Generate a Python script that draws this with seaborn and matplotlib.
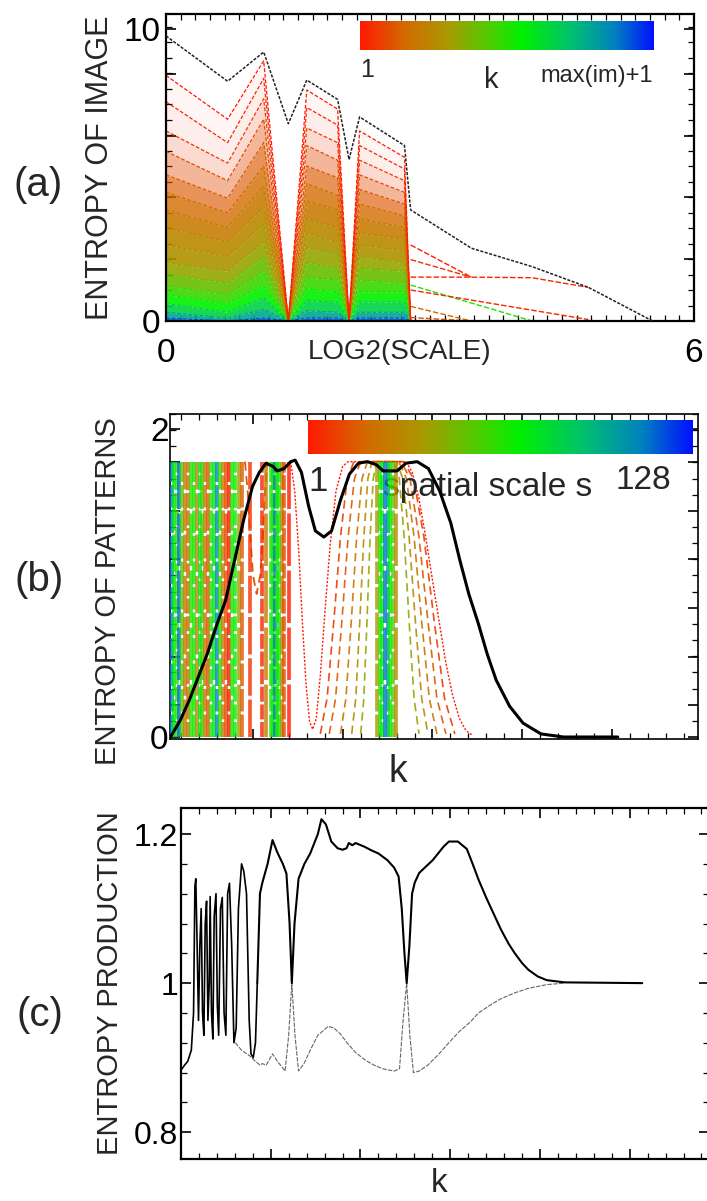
import numpy as np
import matplotlib
matplotlib.use("Agg")
import matplotlib.pyplot as plt
from matplotlib.colors import LinearSegmentedColormap
from matplotlib.ticker import FixedLocator, MultipleLocator, FixedFormatter, NullFormatter
import seaborn as sns

# ---------------- panel (a): entropy of image vs log2(scale) ----------------
a_x = [0.00, 0.70, 1.11, 1.39, 1.60, 1.95, 2.08, 2.20, 2.71, 2.78, 3.47, 4.16, 4.80, 5.53]
a_black = [9.75, 8.20, 9.20, 6.75, 8.24, 7.58, 5.52, 6.98, 6.00, 3.80, 2.49, 1.86, 1.15, 0.00]

fan_x = [0.00, 0.70, 1.11, 1.39, 1.60, 1.95, 2.08, 2.20, 2.71, 2.78]
fan_k = [0.00, 0.03, 0.06, 0.09, 0.12, 0.16, 0.20, 0.24, 0.28, 0.33, 0.40, 0.47, 0.55, 0.65, 0.78, 0.92]
fan_v0 = [8.40, 7.50, 6.50, 5.80, 5.00, 4.40, 3.80, 3.20, 2.60, 2.00, 1.60, 1.20, 0.90, 0.60, 0.30, 0.10]
fan_v1 = [6.90, 6.10, 5.40, 4.80, 4.20, 3.70, 3.20, 2.70, 2.20, 1.70, 1.30, 0.90, 0.60, 0.30, 0.10, 0.00]
fan_v2 = [8.90, 8.30, 7.60, 6.90, 6.10, 5.30, 4.60, 3.90, 3.30, 2.70, 2.20, 1.70, 1.20, 0.80, 0.40, 0.10]
fan_v3 = [0.00] * 16
fan_v4 = [7.90, 7.30, 6.60, 6.00, 5.30, 4.70, 4.10, 3.50, 3.00, 2.50, 2.00, 1.50, 1.10, 0.70, 0.35, 0.10]
fan_v5 = [7.25, 6.70, 6.10, 5.50, 4.90, 4.30, 3.80, 3.20, 2.70, 2.30, 1.80, 1.40, 1.00, 0.65, 0.30, 0.10]
fan_v6 = [0.00] * 16
fan_v7 = [6.50, 6.00, 5.50, 5.00, 4.50, 4.00, 3.50, 3.00, 2.60, 2.20, 1.80, 1.40, 1.00, 0.65, 0.30, 0.10]
fan_v8 = [5.60, 5.20, 4.80, 4.40, 4.00, 3.60, 3.20, 2.80, 2.40, 2.00, 1.70, 1.30, 1.00, 0.65, 0.30, 0.10]
fan_v9 = [0.00] * 16

tail_x = [[2.78, 3.47], [2.78, 3.47, 4.16, 4.80], [2.78, 3.47], [2.78, 4.16],
          [2.78, 4.80], [2.78, 3.47], [2.78, 3.47]]
tail_y = [[2.60, 1.50], [1.50, 1.50, 1.48, 1.15], [2.10, 1.50], [1.23, 0.00],
          [1.06, 0.05], [0.50, 0.00], [0.12, 0.00]]
tail_k = [0.00, 0.02, 0.04, 0.50, 0.03, 0.15, 0.10]

# ---------------- panel (b): entropy of patterns vs k ----------------
b_k = [1.6, 3.8, 5.8, 7.8, 9.8, 11.8, 13.9, 15.9, 17.9, 19.9, 21.4, 22.9, 24.4, 25.4, 26.9,
       28.4, 29.4, 30.8, 32.4, 33.9, 35.8, 37.5, 39.5, 41.5, 43.5, 45.5, 47.5, 49.0, 52.1,
       54.1, 56.6, 59.1, 61.6, 64.1, 66.1, 68.1, 70.2, 72.2, 74.2, 77.2, 80.2, 84.2, 89.2, 101.3]
b_black = [0.00, 0.11, 0.24, 0.39, 0.54, 0.72, 0.89, 1.15, 1.41, 1.63, 1.72, 1.78, 1.76, 1.73, 1.745,
           1.79, 1.80, 1.72, 1.50, 1.34, 1.30, 1.34, 1.54, 1.71, 1.78, 1.79, 1.77, 1.73, 1.73,
           1.78, 1.79, 1.745, 1.60, 1.39, 1.15, 0.93, 0.74, 0.54, 0.37, 0.20, 0.09, 0.02, 0.00, 0.00]
b_plateau = 1.79

spike_k = [1.9, 2.4, 3.0, 3.6, 4.2, 4.9, 5.5, 6.1, 6.8, 7.4, 8.1, 8.7, 9.4, 10.0, 10.7, 11.3,
           12.0, 12.6, 13.3, 13.9, 14.6, 15.3, 16.0, 16.8, 17.5, 19.3, 22.0, 23.0, 23.9, 24.4,
           24.9, 25.4, 25.9, 26.4, 27.0, 28.0, 47.6, 48.2, 48.8, 49.4, 50.0, 50.6, 51.2, 51.8]
spike_c = [0.85, 0.55, 0.50, 0.88, 0.45, 0.20, 0.15, 0.50, 0.55, 0.25, 0.60, 0.50, 0.18, 0.12,
           0.50, 0.58, 0.85, 0.50, 0.20, 0.10, 0.00, 0.50, 0.55, 0.30, 0.12, 0.05, 0.02, 0.20,
           0.50, 0.55, 0.88, 0.50, 0.55, 0.25, 0.10, 0.00, 0.30, 0.50, 0.55, 0.88, 0.82, 0.55,
           0.45, 0.25]

hill_A_k = [28.4, 29.3, 30.2, 31.0, 31.8, 32.6, 33.3, 34.1, 35.0, 36.0, 37.2, 38.5, 40.0, 41.2,
            54.1, 55.5, 57.0, 58.5, 60.0, 61.5, 63.0, 64.5, 66.0, 67.5, 69.0]
hill_A_v = [1.79, 1.60, 1.20, 0.75, 0.35, 0.10, 0.05, 0.12, 0.40, 0.80, 1.25, 1.60, 1.76, 1.79,
            1.79, 1.72, 1.55, 1.30, 1.02, 0.75, 0.48, 0.27, 0.12, 0.04, 0.01]
hill_B_k = [35.0, 36.5, 38.0, 39.5, 41.0, 42.5, 53.5, 55.8, 58.1, 60.4, 62.7, 65.0]
hill_C_k = [37.0, 38.4, 39.8, 41.2, 42.6, 44.0, 53.0, 55.0, 57.0, 59.0, 61.0, 63.0]
hill_D_k = [39.5, 40.7, 41.9, 43.1, 44.3, 45.5, 52.5, 54.2, 55.9, 57.6, 59.3, 61.0]
hill_E_k = [42.0, 42.9, 43.8, 44.7, 45.6, 46.5, 52.0, 53.4, 54.8, 56.2, 57.6, 59.0]
hill_F_k = [44.0, 44.7, 45.4, 46.1, 46.8, 47.5, 51.5, 52.6, 53.7, 54.8, 55.9, 57.0]
hill_v = [0.02, 0.25, 0.75, 1.30, 1.68, 1.79, 1.79, 1.68, 1.30, 0.75, 0.25, 0.02]
hill_c = [0.06, 0.12, 0.18, 0.25, 0.33]
valley_k = [18.2, 18.8, 19.4, 20.0, 20.8, 21.6, 22.2, 22.7, 23.2]
valley_v = [1.79, 1.60, 1.30, 1.05, 0.93, 1.05, 1.30, 1.60, 1.79]

# ---------------- panel (c): entropy production vs k ----------------
c_osc_k = [0.1, 0.8, 1.5, 2.3, 2.8, 3.1, 3.3, 3.6, 3.9, 4.2, 4.5, 4.8, 5.1, 5.4, 5.7, 6.0,
           6.3, 6.5, 6.8, 7.1, 7.4, 7.8, 8.1, 8.4, 8.8, 9.2, 9.6, 10.0, 10.4, 10.8, 11.3,
           11.8, 12.3, 12.8, 13.5, 14.0, 14.6, 15.2, 15.6, 16.1, 16.6, 17.0]
c_osc = [0.884, 0.890, 0.895, 0.910, 0.960, 1.130, 1.140, 1.050, 0.950, 1.050, 1.100, 0.960,
         0.930, 1.080, 1.110, 0.950, 1.000, 1.116, 0.960, 0.925, 1.090, 1.120, 0.970, 0.930,
         1.100, 1.115, 0.960, 0.930, 1.120, 1.134, 1.050, 0.920, 0.940, 1.100, 1.160, 1.150,
         1.120, 0.950, 0.905, 0.900, 0.920, 1.000]
c_up_k = [17.0, 17.6, 18.1, 19.3, 20.4, 21.5, 22.7, 23.5, 24.2, 24.7, 25.3, 26.2, 27.5, 28.8,
          30.5, 31.3, 32.3, 33.5, 34.9, 36.0, 36.9, 37.4, 38.2, 38.9, 40.9, 42.5, 44.0, 46.0,
          47.5, 48.5, 49.2, 49.8, 50.3, 50.9, 51.5, 52.1, 53.1, 56.1, 58.5, 59.7, 61.7, 62.7,
          63.7, 65.0, 66.3, 68.0, 69.3, 71.3, 73.0, 74.4, 76.0, 77.4, 79.5, 81.5, 85.5, 102.8]
c_up = [1.000, 1.120, 1.134, 1.160, 1.192, 1.175, 1.160, 1.147, 1.080, 1.000, 1.080, 1.140,
        1.160, 1.174, 1.200, 1.220, 1.213, 1.190, 1.181, 1.179, 1.181, 1.188, 1.185, 1.188,
        1.183, 1.178, 1.174, 1.165, 1.155, 1.143, 1.100, 1.040, 1.000, 1.050, 1.120, 1.135,
        1.148, 1.165, 1.183, 1.190, 1.190, 1.185, 1.180, 1.160, 1.139, 1.115, 1.098, 1.072,
        1.053, 1.040, 1.027, 1.018, 1.009, 1.004, 1.001, 1.000]
c_low_k = [12.1, 13.5, 15.4, 16.6, 17.6, 18.1, 19.0, 20.4, 21.5, 23.2, 24.0, 24.7, 25.4, 26.2,
           27.5, 28.8, 30.5, 32.8, 34.0, 35.5, 37.0, 38.9, 41.0, 43.0, 45.0, 47.5, 48.7, 49.5,
           50.3, 51.0, 51.8, 53.1, 55.0, 57.5, 59.7, 62.0, 64.5, 66.3, 69.3, 71.3, 74.4, 77.4,
           81.5, 85.5]
c_low = [0.920, 0.910, 0.902, 0.895, 0.890, 0.892, 0.890, 0.905, 0.895, 0.882, 0.930, 1.000,
         0.930, 0.882, 0.893, 0.910, 0.930, 0.942, 0.940, 0.932, 0.920, 0.907, 0.897, 0.890,
         0.885, 0.882, 0.885, 0.950, 1.000, 0.930, 0.880, 0.882, 0.890, 0.905, 0.920, 0.935,
         0.948, 0.960, 0.972, 0.979, 0.987, 0.993, 0.998, 1.000]

# ---------------- style ----------------
sns.set_theme(style="ticks")
plt.rcParams["font.family"] = ["Liberation Sans", "DejaVu Sans"]
plt.rcParams["axes.linewidth"] = 1.6

cmap = LinearSegmentedColormap.from_list(
    "rgb_scale",
    [(0.0, "#ff1a00"), (0.15, "#d46a00"), (0.30, "#a89a00"), (0.45, "#48d000"),
     (0.55, "#00f000"), (0.72, "#00c070"), (0.87, "#0080c0"), (1.0, "#0010ff")])
grad = np.linspace(0, 1, 256)[None, :]
band_alpha = [0.04, 0.08, 0.18, 0.40, 0.65, 0.80, 0.88, 0.9, 0.9, 0.9, 0.9, 0.9, 0.9, 0.9, 0.9, 0.9]

fig = plt.figure(figsize=(7.07, 12.01), dpi=100)
ax_a = fig.add_axes([0.2348, 0.73272, 0.7468, 0.25562])
ax_b = fig.add_axes([0.2405, 0.38468, 0.7468, 0.27061])
ax_c = fig.add_axes([0.2560, 0.03497, 0.7470, 0.29226])


def style_ticks(ax, fs):
    ax.tick_params(which="both", direction="in", top=True, right=True, colors="black",
                   labelsize=fs)
    ax.tick_params(which="major", length=7, width=1.2)
    ax.tick_params(which="minor", length=4, width=0.9)
    for s in ax.spines.values():
        s.set_color("black")


# ---- panel (a) ----
ax = ax_a
fan_cols = [fan_v0, fan_v1, fan_v2, fan_v3, fan_v4, fan_v5, fan_v6, fan_v7, fan_v8, fan_v9]
fan_lines = [[col[j] for col in fan_cols] for j in range(len(fan_k))]
n = len(fan_k)
for j in range(n):
    upper = fan_lines[j]
    lower = fan_lines[j + 1] if j + 1 < n else [0.0] * len(fan_x)
    ax.fill_between(fan_x, lower, upper, color=cmap(fan_k[j]), alpha=band_alpha[j], lw=0, zorder=1)
for j in range(n - 1, -1, -1):
    ax.plot(fan_x, fan_lines[j], color=cmap(fan_k[j]), lw=0.9, ls=(0, (3, 1.5)), zorder=2)
for tx, ty, tk in zip(tail_x, tail_y, tail_k):
    ax.plot(tx, ty, color=cmap(tk), lw=1.0, ls=(0, (4, 1.5)), zorder=2)
ax.plot(a_x, a_black, color="#222222", lw=1.1, ls=(0, (2, 1)), zorder=3)
ax.imshow(grad, extent=[2.20, 5.53, 9.26, 10.25], aspect="auto", cmap=cmap, zorder=4)
ax.text(2.28, 8.6, "1", fontsize=18, ha="center", va="center")
ax.text(3.70, 8.25, "k", fontsize=21, ha="center", va="center")
ax.text(5.53, 8.38, "max(im)+1", fontsize=17, ha="right", va="center")
ax.set_xlim(0, 6)
ax.set_ylim(0, 10.5)
ax.xaxis.set_major_locator(FixedLocator([0, 6]))
ax.xaxis.set_minor_locator(MultipleLocator(1 / 6))
ax.yaxis.set_major_locator(FixedLocator([0, 2.11, 4.23, 6.34, 8.46, 10]))
ax.yaxis.set_major_formatter(FixedFormatter(["0", "", "", "", "", "10"]))
ax.yaxis.set_minor_locator(MultipleLocator(0.53))
style_ticks(ax, 24)
ax.tick_params(axis="x", pad=12)
ax.tick_params(axis="y", pad=4)
ax.set_xlabel("LOG2(SCALE)", fontsize=20)
ax.xaxis.set_label_coords(0.443, -0.06)
ax.set_ylabel("ENTROPY OF IMAGE", fontsize=22)
ax.yaxis.set_label_coords(-0.097, 0.50)

# ---- panel (b) ----
ax = ax_b
hill_ks = [hill_B_k, hill_C_k, hill_D_k, hill_E_k, hill_F_k]
for hk, hc in zip(hill_ks, hill_c):
    ax.plot(hk, hill_v, color=cmap(hc), lw=1.2, ls=(0, (5, 3)), alpha=0.9, zorder=2)
ax.plot(hill_A_k, hill_A_v, color=cmap(0.0), lw=1.0, ls=(0, (1.5, 1.2)), zorder=2)
ax.plot(valley_k, valley_v, color=cmap(0.12), lw=1.3, ls=(0, (5, 3)), zorder=2)
styles = [(0, (6, 0.8)), (0, (10, 1.0)), (0, (4, 0.7)), (0, (14, 1.2))]
for i, (sk, sc) in enumerate(zip(spike_k, spike_c)):
    ax.vlines(sk, 0, b_plateau, colors=[cmap(sc)], lw=2.7, alpha=0.8,
              linestyles=[styles[i % 4]], zorder=3)
sns.lineplot(x=b_k, y=b_black, ax=ax, color="black", lw=2.2, sort=False,
             estimator=None, zorder=5)
ax.imshow(grad, extent=[32.2, 117.9, 1.84, 2.06], aspect="auto", cmap=cmap, zorder=4)
ax.text(34.5, 1.66, "1", fontsize=25, ha="center", va="center", zorder=2)
ax.text(49.0, 1.565, "spatial scale s", fontsize=24, ha="left", va="baseline", zorder=2)
ax.text(100.7, 1.61, "128", fontsize=24, ha="left", va="baseline", zorder=2)
ax.set_xlim(1.5, 119.2)
ax.set_ylim(-0.013, 2.1)
ax.xaxis.set_major_locator(MultipleLocator(20))
ax.xaxis.set_minor_locator(MultipleLocator(4))
ax.xaxis.set_major_formatter(NullFormatter())
ax.yaxis.set_major_locator(FixedLocator([0, 0.21, 0.52, 0.84, 1.16, 1.47, 1.79, 2.0]))
ax.yaxis.set_major_formatter(FixedFormatter(["0", "", "", "", "", "", "", "2"]))
ax.yaxis.set_minor_locator(MultipleLocator(0.105))
style_ticks(ax, 24)
ax.tick_params(axis="y", pad=1)
for s in ax.spines.values():
    s.set_linewidth(1.2)
ax.set_xlabel("k", fontsize=27)
ax.xaxis.set_label_coords(0.432, -0.045)
ax.set_ylabel("ENTROPY OF PATTERNS", fontsize=21)
ax.yaxis.set_label_coords(-0.091, 0.454)

# ---- panel (c) ----
ax = ax_c
ax.plot(c_low_k, c_low, color="#666666", lw=0.8, ls=(0, (4, 1.2)), zorder=2)
ax.plot(c_osc_k, c_osc, color="black", lw=1.2, zorder=3)
sns.lineplot(x=c_up_k, y=c_up, ax=ax, color="black", lw=1.5, sort=False,
             estimator=None, zorder=3)
ax.set_xlim(0, 117.7)
ax.set_ylim(0.764, 1.235)
ax.xaxis.set_major_locator(MultipleLocator(20))
ax.xaxis.set_minor_locator(MultipleLocator(4))
ax.xaxis.set_major_formatter(NullFormatter())
ax.yaxis.set_major_locator(FixedLocator([0.8, 1.0, 1.2]))
ax.yaxis.set_major_formatter(FixedFormatter(["0.8", "1", "1.2"]))
ax.yaxis.set_minor_locator(MultipleLocator(0.04))
style_ticks(ax, 23)
ax.tick_params(axis="y", pad=2)
ax.set_xlabel("k", fontsize=24)
ax.xaxis.set_label_coords(0.488, -0.026)
ax.set_ylabel("ENTROPY PRODUCTION", fontsize=21)
ax.yaxis.set_label_coords(-0.108, 0.50)

# panel letters
fig.text(0.054, 0.846, "(a)", fontsize=29, ha="center", va="center")
fig.text(0.055, 0.517, "(b)", fontsize=29, ha="center", va="center")
fig.text(0.057, 0.155, "(c)", fontsize=29, ha="center", va="center")

fig.savefig("out.png", dpi=100)
